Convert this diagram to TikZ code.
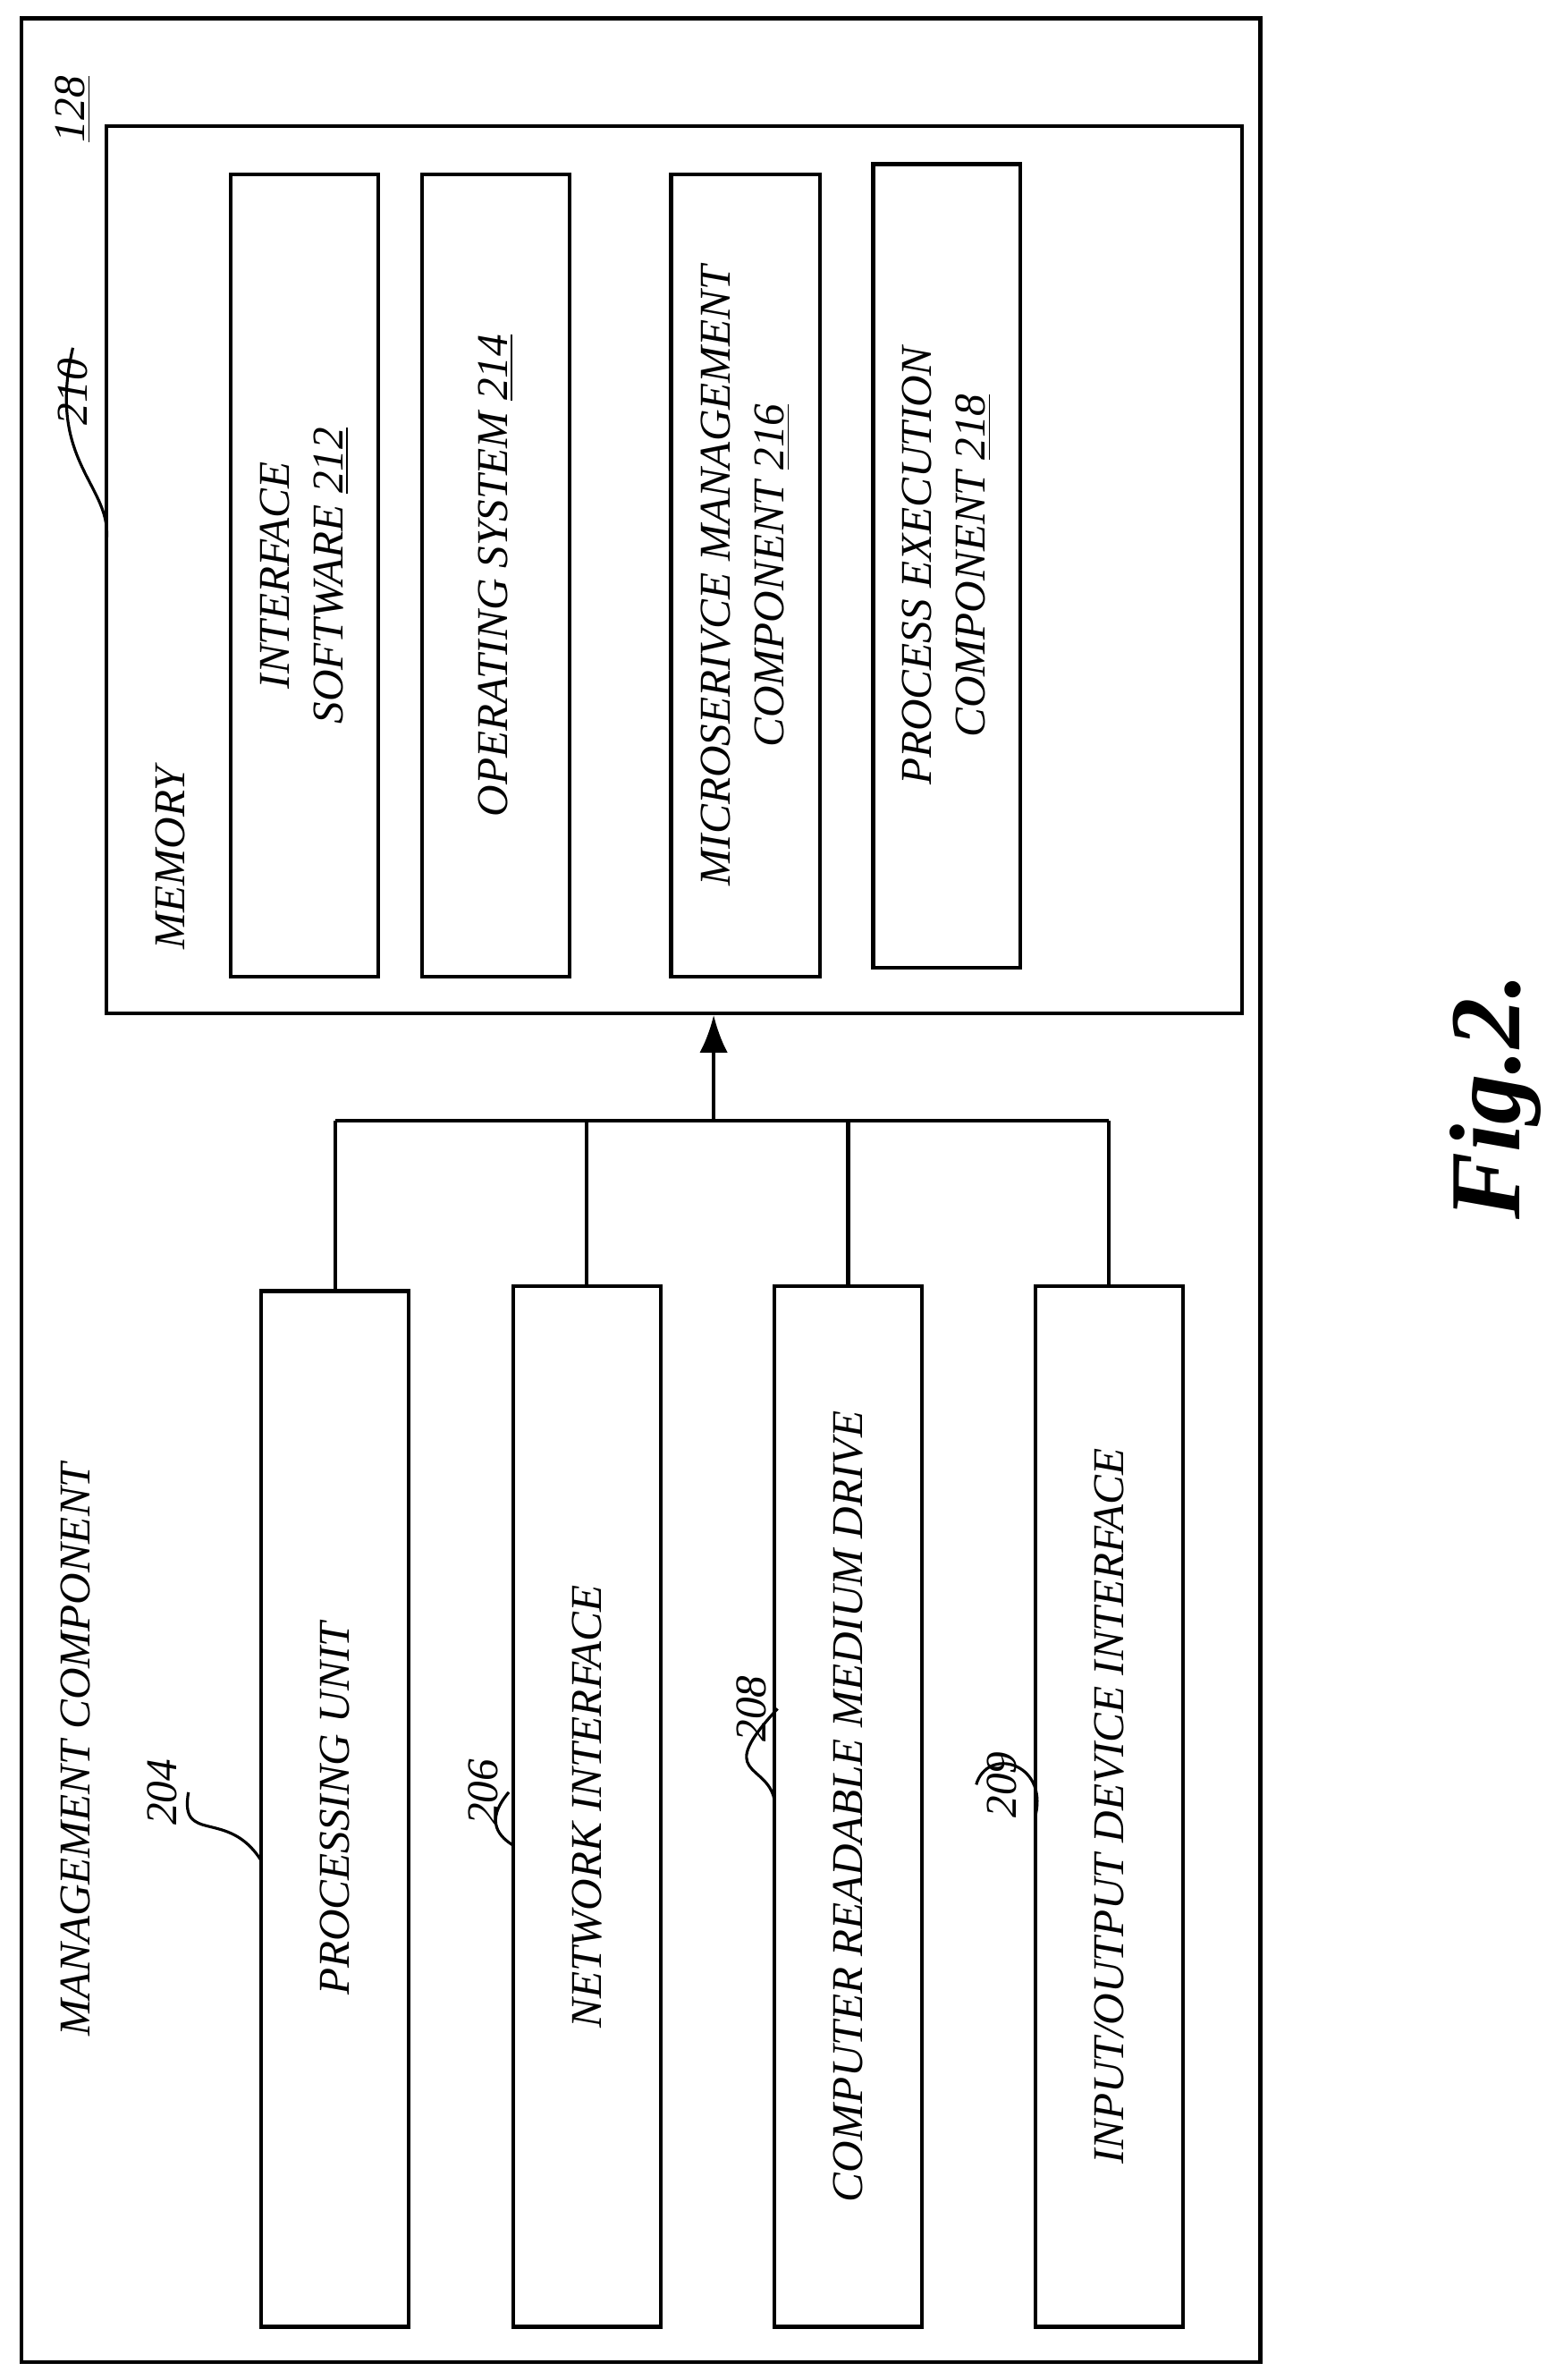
\documentclass[tikz,border=0pt]{standalone}
\usepackage{fontspec}
\setmainfont{Liberation Serif}
\usetikzlibrary{arrows.meta,positioning,fit}
\begin{document}
\begin{tikzpicture}[x=0.01698cm, y=-0.01698cm, every node/.style={font=\itshape\fontsize{14}{17}\selectfont}]
    % Define styles
    \tikzset{
        box/.style={rectangle, draw, line width=1.2pt, inner sep=0pt},
        lbl/.style={rotate=90, align=center},
        ref/.style={rotate=90},
        squig/.style={line width=0.9pt},
        bus/.style={line width=1.2pt}
    }
    \useasboundingbox (0,0) rectangle (1024,1567);

    % Outer frame
    \node[box, fit={(14,12) (830,1555)}] (mgmt) {};
    \node[lbl] (mgmtlbl) at (50,1152) {MANAGEMENT COMPONENT};
    \node[ref] (n128) at (48,72) {\underline{128}};

    % Memory
    \node[box, fit={(70,83) (818,667)}] (memory) {};
    \node[lbl] (memlbl) at (112,565) {MEMORY};
    \node[ref] (n210) at (48,258) {210};
    \coordinate (c210) at (70,357);
    \draw[squig] (n210.east) .. controls (30,305) and (75,320) .. (c210);

    \node[box, fit={(152,115) (249,643)}] (iface) {};
    \node[lbl] at (iface.center) {INTERFACE\\SOFTWARE \underline{212}};
    \node[box, fit={(278,115) (375,643)}] (os) {};
    \node[lbl] at (os.center) {OPERATING SYSTEM \underline{214}};
    \node[box, fit={(442,115) (540,643)}] (micro) {};
    \node[lbl] at (micro.center) {MICROSERIVCE MANAGEMENT\\COMPONENT \underline{216}};
    \node[box, fit={(575,108) (672,637)}] (procex) {};
    \node[lbl] at (procex.center) {PROCESS EXECUTION\\COMPONENT \underline{218}};

    % Lower components
    \node[box, fit={(172,850) (269,1532)}] (cpu) {};
    \node[lbl] at (cpu.center) {PROCESSING UNIT};
    \node[box, fit={(338,847) (435,1532)}] (net) {};
    \node[lbl] at (net.center) {NETWORK INTERFACE};
    \node[box, fit={(510,847) (607,1532)}] (crmd) {};
    \node[lbl] at (crmd.center) {COMPUTER READABLE MEDIUM DRIVE};
    \node[box, fit={(682,847) (779,1532)}] (io) {};
    \node[lbl] at (io.center) {INPUT/OUTPUT DEVICE INTERFACE};

    % Reference numerals
    \node[ref] (n204) at (107,1180) {204};
    \draw[squig] (n204.south) .. controls (118,1215) and (150,1190) .. (172,1225);
    \node[ref] (n206) at (318,1180) {206};
    \draw[squig] (n206.south) .. controls (318,1200) and (330,1210) .. (338,1215);
    \node[ref] (n208) at (495,1125) {208};
    \draw[squig] (n208.south) .. controls (470,1170) and (505,1160) .. (510,1185);
    \node[ref] (n209) at (660,1175) {209};
    \draw[squig] (n209.north) .. controls (650,1150) and (690,1160) .. (682,1195);

    % Bus
    \coordinate (busL) at (221,738);
    \coordinate (busR) at (730,738);
    \coordinate (busM) at (470,738);
    \draw[bus] (busL) -- (busR);
    \draw[bus] (cpu.north -| busL) -- (busL);
    \draw[bus] (net.north) -- (net.north |- busL);
    \draw[bus] (crmd.north) -- (crmd.north |- busL);
    \draw[bus] (io.north -| busR) -- (busR);
    \draw[bus, -{Latex[length=12pt,width=9pt]}] (busM) -- (busM |- memory.south);

    % Figure label
    \node[rotate=90, font=\bfseries\itshape\fontsize{32}{36}\selectfont] (fig) at (985,722) {Fig.2.};
\end{tikzpicture}
\end{document}
